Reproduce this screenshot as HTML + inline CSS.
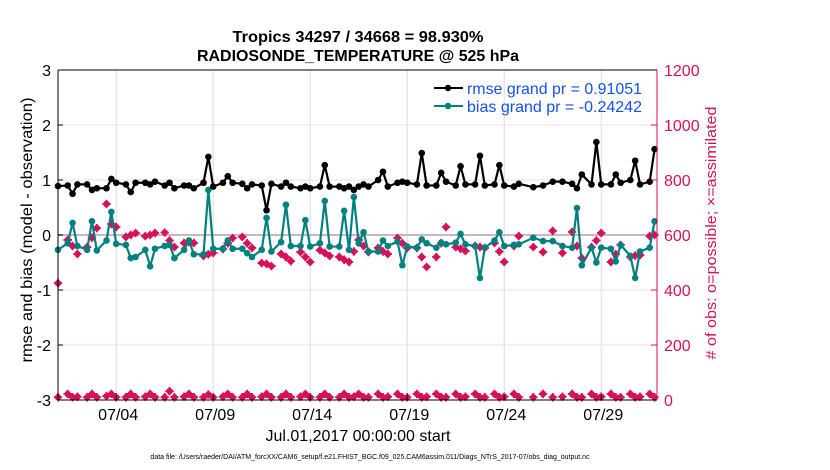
<!DOCTYPE html>
<html><head><meta charset="utf-8"><style>
body{margin:0;background:#fff;}
svg{display:block;font-family:"Liberation Sans",sans-serif;}
</style></head><body>
<svg id="chart" width="830" height="470" viewBox="0 0 830 470" xmlns="http://www.w3.org/2000/svg">
<rect x="0" y="0" width="830" height="470" fill="#fff"/>
<text x="358" y="42" text-anchor="middle" font-size="16" font-weight="bold" textLength="251" lengthAdjust="spacingAndGlyphs">Tropics 34297 / 34668 = 98.930%</text>
<text x="358" y="61" text-anchor="middle" font-size="16" font-weight="bold" textLength="322" lengthAdjust="spacingAndGlyphs">RADIOSONDE_TEMPERATURE @ 525 hPa</text>
<g id="grid"></g>
<g id="series"></g>
<g id="axes"></g>
<text transform="translate(32,230) rotate(-90)" text-anchor="middle" font-size="16" textLength="265" lengthAdjust="spacingAndGlyphs">rmse and bias (model - observation)</text>
<text transform="translate(716,233) rotate(-90)" text-anchor="middle" font-size="15" fill="#d6105a" textLength="253" lengthAdjust="spacingAndGlyphs"># of obs: o=possible; ×=assimilated</text>
<text x="358" y="441" text-anchor="middle" font-size="16" textLength="185" lengthAdjust="spacingAndGlyphs">Jul.01,2017 00:00:00 start</text>
<text x="370" y="459" text-anchor="middle" font-size="7">data file: /Users/raeder/DAI/ATM_forcXX/CAM6_setup/f.e21.FHIST_BGC.f09_025.CAM6assim.011/Diags_NTrS_2017-07/obs_diag_output.nc</text>
<g id="legend">
<line x1="434" y1="88" x2="463" y2="88" stroke="#000" stroke-width="2"/>
<circle cx="448" cy="88" r="3.2" fill="#000"/>
<text x="467" y="94" font-size="16" fill="#1450f0" textLength="175" lengthAdjust="spacingAndGlyphs">rmse grand pr = 0.91051</text>
<line x1="434" y1="106" x2="463" y2="106" stroke="#008080" stroke-width="2"/>
<circle cx="448" cy="106" r="3.2" fill="#008080"/>
<text x="467" y="112" font-size="16" fill="#1450f0" textLength="175" lengthAdjust="spacingAndGlyphs">bias grand pr = -0.24242</text>
</g>
</svg>
<script>
// time in 6-hour steps from Jul 01 00Z
const timeIdx = [0,2,3,4,6,7,8,10,11,12,14,15,16,18,19,20,22,23,24,26,27,28,30,31,32,34,35,36,38,39,40,42,43,44,46,47,48,50,51,52,54,55,56,58,59,60,61,62,63,64,66,67,68,70,71,72,74,75,76,78,79,80,82,83,84,86,87,88,90,91,92,94,95,98,100,102,104,106,107,108,110,111,112,114,115,116,118,119,120,122,123];
const rmse = [.89,.9,.75,.92,.92,.82,.85,.85,1.02,.95,.92,.78,.95,.95,.92,.97,.9,.95,.85,.9,.9,.85,.95,1.42,.88,.95,1.07,.95,.93,.85,.92,.9,.45,.93,.88,.95,.88,.85,.88,.85,.88,1.27,.88,.88,.85,.88,.82,.88,.92,.88,1.0,1.15,.88,.95,.97,.95,.92,1.49,.9,.9,1.13,.97,.9,1.25,.92,.92,1.44,.9,.92,1.27,.9,.88,.93,.87,.9,.97,.97,.93,.85,1.1,.92,1.69,.92,.92,1.1,.95,1.0,1.35,.92,.97,1.56];
const bias = [-.27,-.15,.22,-.2,-.27,.25,-.28,-.1,.42,-.16,-.18,-.42,-.4,-.27,-.57,-.25,-.2,-.18,-.42,-.27,-.1,-.35,-.35,.82,-.25,-.25,-.1,-.25,-.25,-.33,-.4,-.27,.31,-.3,-.13,.55,-.2,-.2,.27,-.21,-.15,.62,-.21,-.21,.44,-.27,.69,-.15,.05,-.3,-.3,-.1,-.2,-.12,-.55,-.21,-.23,-.08,-.15,-.23,-.14,-.17,-.14,.02,-.17,-.2,-.78,-.23,-.1,.05,-.2,-.18,-.17,-.05,-.11,-.11,-.2,-.23,.49,-.55,-.23,-.5,-.23,-.25,-.48,-.18,-.38,-.78,-.3,-.23,.25];
const possible = [425,582,560,531,556,590,625,713,640,629,593,600,607,596,600,607,609,580,556,571,575,571,524,530,535,549,570,589,593,570,553,498,495,487,531,520,505,538,520,502,545,535,524,520,510,502,540,582,560,538,553,540,531,589,570,553,553,520,484,520,570,629,556,550,542,560,556,553,571,540,502,560,596,556,538,615,535,611,560,516,556,580,607,502,530,564,520,525,527,596,600];
const assimilated = [10,22,10,12,10,22,10,14,22,10,10,22,10,12,22,10,10,32,10,12,22,10,10,20,10,12,22,10,10,22,10,12,22,10,10,22,10,12,22,10,10,22,10,10,22,10,12,22,10,10,22,10,12,22,10,10,22,10,12,22,10,10,22,10,12,22,10,10,22,10,12,22,10,10,22,10,12,22,10,10,22,10,12,22,10,10,22,10,12,22,10];
const leftTicks = [3,2,1,0,-1,-2,-3];
const rightTicks = [1200,1000,800,600,400,200,0];
const dateTickDays = [3,8,13,18,23,28];
const dateTickLabels = ["07/04","07/09","07/14","07/19","07/24","07/29"];

const L=58,R=657,T=70,B=400,PINK="#d6105a",TEAL="#008080";
const xS = d => L + (d/30.875)*(R-L);
const yL = v => T + (3-v)/6*(B-T);
const yR = n => B - n/1200*(B-T);
const NS="http://www.w3.org/2000/svg";
function mk(parent,tag,attrs){const e=document.createElementNS(NS,tag);for(const k in attrs)e.setAttribute(k,attrs[k]);parent.appendChild(e);return e;}
const grid=document.getElementById('grid'),ser=document.getElementById('series'),ax=document.getElementById('axes');

dateTickDays.forEach((d,i)=>{
  const g=mk(grid,'line',{x1:xS(d),x2:xS(d),y1:T,y2:B,stroke:'#dcdcdc','stroke-width':1});
  
  
  const tk=mk(ax,'line',{x1:xS(d),x2:xS(d),y1:B,y2:B-5,stroke:'#000'});
  
  
  const t=mk(ax,'text',{x:xS(d)+2,y:B+20,'text-anchor':'middle','font-size':16});
  t.textContent=dateTickLabels[i];
  
  
});
leftTicks.forEach(v=>{
  const g=mk(grid,'line',{x1:L,x2:R,y1:yL(v),y2:yL(v),stroke:v===0?'#c8b8bc':'#f0dde3','stroke-width':v===0?2:1});
  
  
  const tk=mk(ax,'line',{x1:L,x2:L+5,y1:yL(v),y2:yL(v),stroke:'#000'});
  
  
  const t=mk(ax,'text',{x:L-7,y:yL(v)+6,'text-anchor':'end','font-size':16});
  t.textContent=String(v);
  
  
});
rightTicks.forEach(n=>{
  const tk=mk(ax,'line',{x1:R,x2:R-6,y1:yR(n),y2:yR(n),stroke:PINK});
  
  
  const t=mk(ax,'text',{x:R+7,y:yR(n)+6,'font-size':16,fill:PINK});
  t.textContent=String(n);
  
  
});
const frameL=mk(ax,'line',{x1:L,x2:L,y1:T,y2:B,stroke:'#000'});


const frameT=mk(ax,'line',{x1:L,x2:R,y1:T,y2:T,stroke:'#000'});


const frameB=mk(ax,'line',{x1:L,x2:R,y1:B,y2:B,stroke:'#000'});


const frameR=mk(ax,'line',{x1:R,x2:R,y1:T,y2:B,stroke:PINK});



function star(x,y,name){
  const g=mk(ser,'g',{});
  
  
  mk(g,'circle',{cx:x,cy:y,r:3.2,fill:PINK});
  mk(g,'path',{d:`M${x-4.2} ${y}H${x+4.2}M${x} ${y-4.2}V${y+4.2}`,stroke:PINK,'stroke-width':1.8});
}
timeIdx.forEach((ti,i)=>{star(xS(ti/4),yR(possible[i]),'possible-obs-point');});
timeIdx.forEach((ti,i)=>{star(xS(ti/4),yR(assimilated[i]),'assimilated-obs-point');});

function line(vals,color,name){
  const pts=timeIdx.map((ti,i)=>xS(ti/4)+','+yL(vals[i])).join(' ');
  const pl=mk(ser,'polyline',{points:pts,fill:'none',stroke:color,'stroke-width':2.2});
  
  
  timeIdx.forEach((ti,i)=>{
    const c=mk(ser,'circle',{cx:xS(ti/4),cy:yL(vals[i]),r:3.3,fill:color});
    
    
  });
}
line(bias,TEAL,'bias');
line(rmse,'#000','rmse');
</script>
</body></html>
